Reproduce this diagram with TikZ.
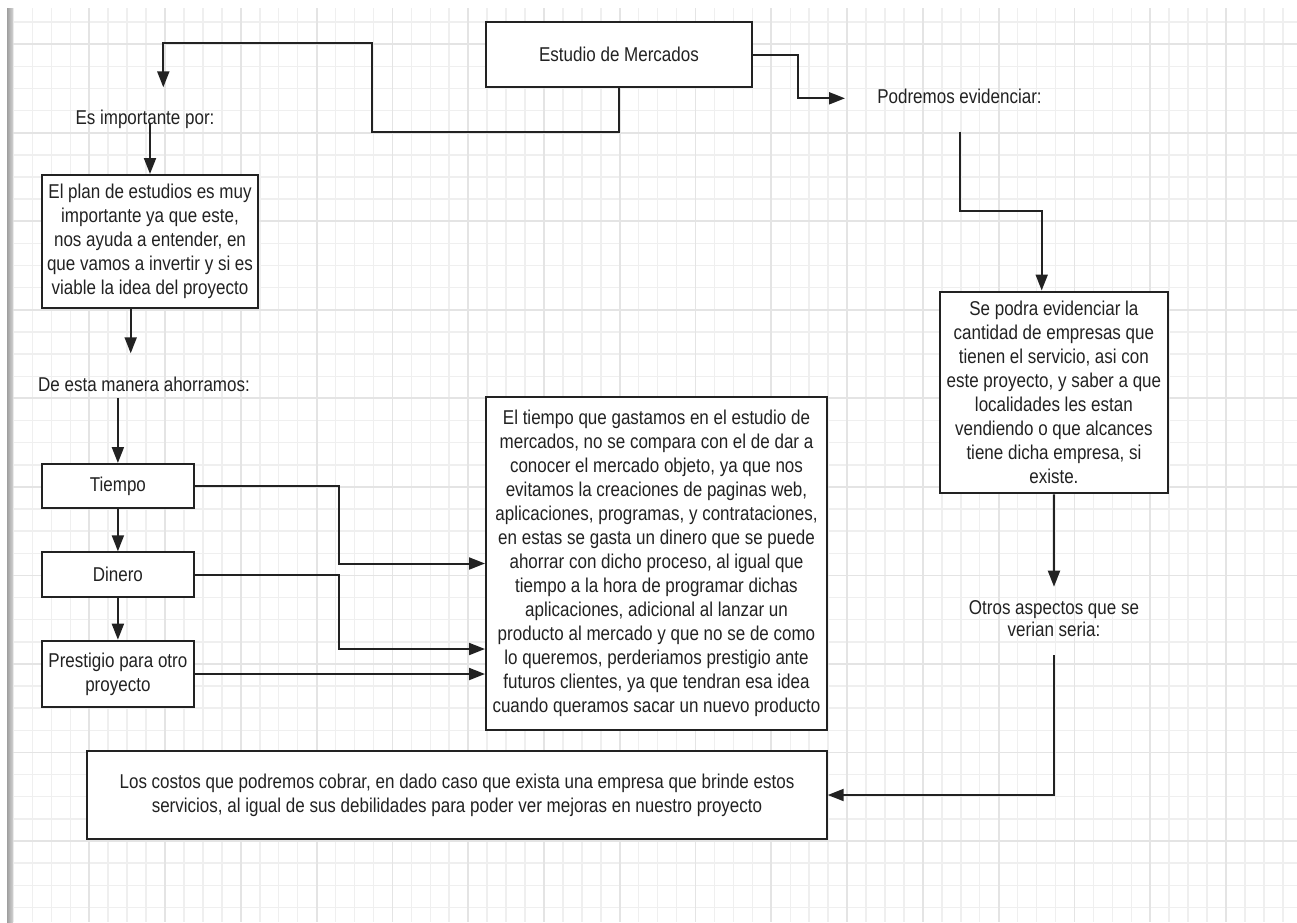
\documentclass[tikz,border=0pt]{standalone}
\usepackage{fontspec}
\setmainfont{Liberation Sans}[FakeStretch=0.85]
\usetikzlibrary{arrows.meta,calc}
\definecolor{ink}{RGB}{34,34,34}
\definecolor{gridminor}{RGB}{239,239,239}
\definecolor{gridmajor}{RGB}{228,228,228}
\begin{document}
\begin{tikzpicture}[x=0.5pt,y=-0.5pt,
  font=\fontsize{10}{12}\selectfont,
  box/.style={draw=ink, line width=1pt, fill=white, inner sep=0pt, align=center, text=ink},
  lbl/.style={inner sep=0pt, align=center, text=ink},
  conn/.style={draw=ink, line width=1pt},
  arr/.style={draw=ink, line width=1pt, -{Triangle[length=8pt,width=6pt]}}]
% background and grid
\fill[white] (0,0) rectangle (1297,922);
\useasboundingbox (0,0) rectangle (1297,922);
\begin{scope}
  \clip (13,8) rectangle (1297,922);
  \foreach \i in {0,...,68} \draw[gridminor, line width=0.75pt] ({13.5+18.945*\i},8) -- ++(0,914);
  \foreach \k in {1,...,41} \draw[gridminor, line width=0.75pt] (13,{0.04+22.13*\k}) -- ++(1284,0);
  \foreach \i in {4,8,...,68} \draw[gridmajor, line width=0.9pt] ({13.5+18.945*\i},8) -- ++(0,914);
  \foreach \k in {2,6,...,38} \draw[gridmajor, line width=0.9pt] (13,{0.04+22.13*\k}) -- ++(1284,0);
\end{scope}
\shade[left color=gray!75, right color=gray!35] (7,8) rectangle (13,922);

% nodes
\node[box, minimum width=133pt, minimum height=32.5pt] (est) at (619,54.5) {Estudio de Mercados};
\node[lbl] (esimp) at (145,119) {Es importante por:};
\node[box, minimum width=108.3pt, minimum height=66.7pt] (plan) at (150,241.7)
  {El plan de estudios es muy\\importante ya que este,\\nos ayuda a entender, en\\que vamos a invertir y si es\\viable la idea del proyecto};
\node[lbl] (demanera) at (144,384) {De esta manera ahorramos:};
\node[box, minimum width=76.2pt, minimum height=22.2pt] (tiempo) at (117.9,486.2) {Tiempo};
\node[box, minimum width=76.2pt, minimum height=22.2pt] (dinero) at (117.9,574.5) {Dinero};
\node[box, minimum width=76.2pt, minimum height=33.3pt] (prest) at (117.9,674) {Prestigio para otro\\proyecto};
\node[box, minimum width=170.5pt, minimum height=166.5pt] (big) at (656.5,563.5)
  {El tiempo que gastamos en el estudio de\\mercados, no se compara con el de dar a\\conocer el mercado objeto, ya que nos\\evitamos la creaciones de paginas web,\\aplicaciones, programas, y contrataciones,\\en estas se gasta un dinero que se puede\\ahorrar con dicho proceso, al igual que\\tiempo a la hora de programar dichas\\aplicaciones, adicional al lanzar un\\producto al mercado y que no se de como\\lo queremos, perderiamos prestigio ante\\futuros clientes, ya que tendran esa idea\\cuando queramos sacar un nuevo producto};
\node[lbl] (podremos) at (959.5,96) {Podremos evidenciar:};
\node[box, minimum width=113.9pt, minimum height=100.9pt] (sepodra) at (1053.9,392.4)
  {Se podra evidenciar la\\cantidad de empresas que\\tienen el servicio, asi con\\este proyecto, y saber a que\\localidades les estan\\vendiendo o que alcances\\tiene dicha empresa, si\\existe.};
\node[lbl, font=\fontsize{10}{11}\selectfont] (otros) at (1054,619) {Otros aspectos que se\\verian seria:};
\node[box, minimum width=369.7pt, minimum height=44.3pt] (bottom) at (457,795)
  {Los costos que podremos cobrar, en dado caso que exista una empresa que brinde estos\\servicios, al igual de sus debilidades para poder ver mejoras en nuestro proyecto};

% free-end coordinates
\coordinate (esimpIn) at (163.3,87.3);
\coordinate (planOut) at (130.7,353.3);
\coordinate (podIn) at (845,98.3);
\coordinate (c2) at (1041.7,211);
\coordinate (otIn) at (1054,586.7);
\coordinate (j1) at (339.3,564);
\coordinate (cD) at (339.3,649);

% connectors
\draw[arr] (est.south) |- (371.7,131.7) |- (esimpIn |- 0,42.7) -- (esimpIn);
\draw[arr] ($(plan.north |- esimp.center)+(0,4)$) -- (plan.north);
\draw[arr] (plan.south -| planOut) -- (planOut);
\draw[arr] ($(tiempo.north |- demanera.center)+(0,14)$) -- (tiempo.north);
\draw[arr] (tiempo.south) -- (dinero.north);
\draw[arr] (dinero.south) -- (prest.north);
\draw[arr] (tiempo.east) -| (j1 |- big.west) -- (big.west);
\draw[arr] (dinero.east) -| (cD) -- (big.west |- cD);
\draw[arr] (prest.east) -- (prest.east -| big.west);
\draw[arr] (est.east) -| ($(podIn)+(-46.7,0)$) -- (podIn);
\draw[arr] ($(podremos.center)+(0,35.7)$) |- (c2) -- (c2 |- sepodra.north);
\draw[arr] (sepodra.south) -- (otIn);
\draw[arr] ($(otros.center)+(0,36)$) |- (bottom.east);
\end{tikzpicture}
\end{document}
